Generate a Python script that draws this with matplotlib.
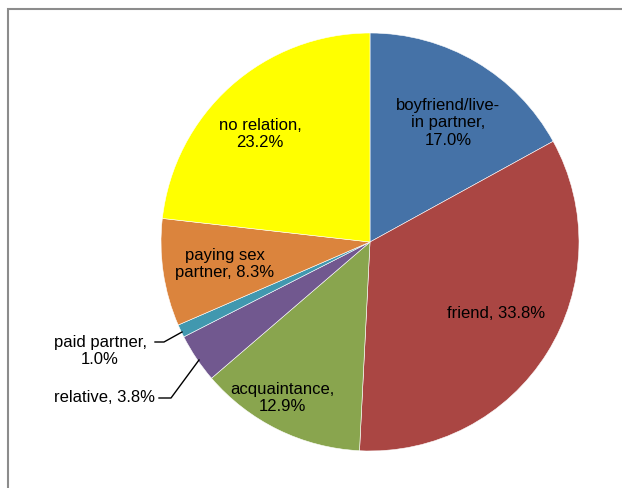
import matplotlib.pyplot as plt
from matplotlib.patches import Rectangle

labels = ["boyfriend/live-\nin partner,\n17.0%", "friend, 33.8%", "acquaintance,\n12.9%",
          "relative, 3.8%", "paid partner,\n1.0%", "paying sex\npartner, 8.3%",
          "no relation,\n23.2%"]
values = [17.0, 33.8, 12.9, 3.8, 1.0, 8.3, 23.2]
colors = ["#4572A7", "#AA4643", "#89A54E", "#71588F", "#4198AF", "#DB843D", "#FFFF00"]

W, H = 622, 489
fig = plt.figure(figsize=(W / 100, H / 100), dpi=100)
ax = fig.add_axes([0, 0, 1, 1])

font = ["Liberation Sans", "DejaVu Sans"]

cx, cy, r = 370, H - 243, 209
ax.pie(values, colors=colors, startangle=90, counterclock=False, center=(cx, cy), radius=r,
       wedgeprops=dict(edgecolor="white", linewidth=0.4), frame=True)
ax.set_xlim(0, W)
ax.set_ylim(0, H)
ax.set_aspect("equal")
ax.axis("off")

# label positions in pixels (x, y from top)
pos = [(448, 123), (496, 314), (282, 398), (104, 398), (100, 351), (225, 264), (260, 134)]
for lab, (px, py) in zip(labels, pos):
    ax.text(px, H - py, lab, ha="center", va="center", fontsize=12, family=font,
            linespacing=1.2, color="black")

# leader lines
ax.plot([155, 164, 182], [H - 343, H - 343, H - 333], color="black", lw=1)
ax.plot([159, 171, 199], [H - 399, H - 399, H - 361], color="black", lw=1)

fig.patches.append(Rectangle((8 / W, -0.1), 1.2, (H - 10) / H + 0.1, transform=fig.transFigure,
                             fill=False, edgecolor="#8c8c8c", linewidth=1.5))

fig.savefig("out.png", dpi=100)
